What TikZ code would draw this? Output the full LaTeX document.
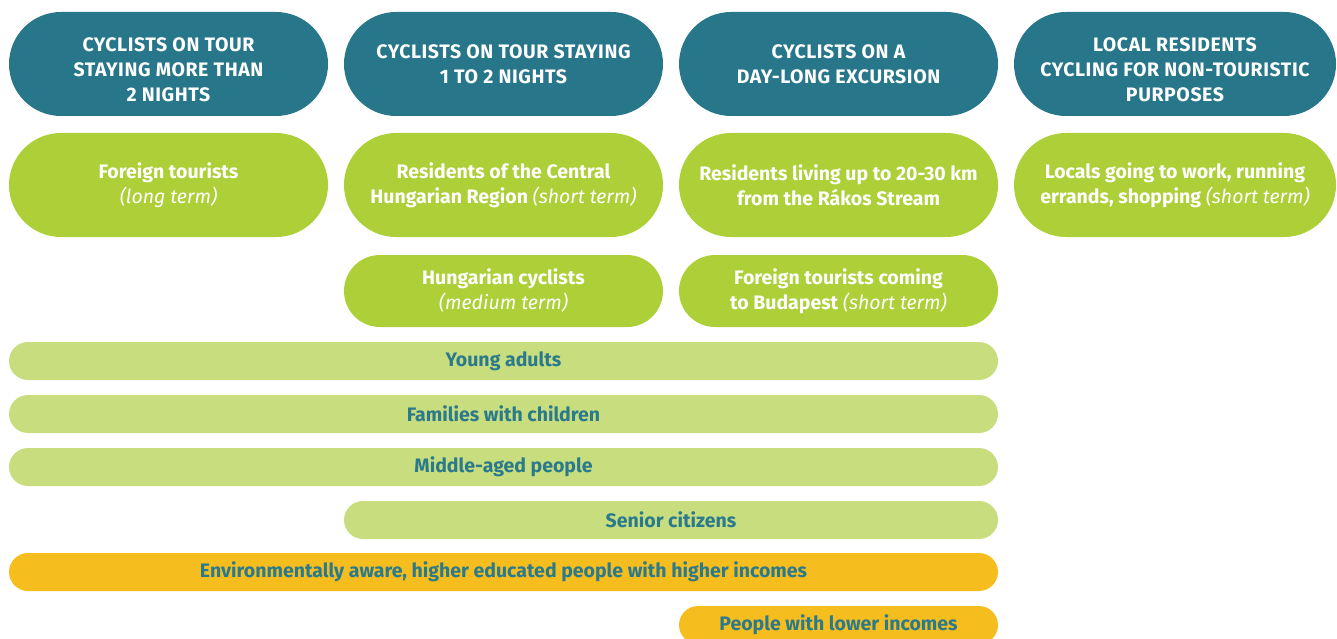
\documentclass[tikz,border=0pt]{standalone}
\usepackage{fontspec}
\setmainfont{Fira Sans}
\usetikzlibrary{shapes.misc}
\definecolor{teal}{HTML}{27768A}
\definecolor{lime}{HTML}{ADCF37}
\definecolor{pale}{HTML}{C8DD7E}
\definecolor{amber}{HTML}{F6BD1E}
\definecolor{tealtext}{HTML}{2A7A8C}
\tikzset{
  pill/.style={rounded rectangle, draw=none, inner sep=0pt, align=center, text=white,
    font=\fontsize{19.5}{25}\selectfont\bfseries},
  head/.style={pill, fill=teal, minimum height=104pt, font=\fontsize{19.5}{25}\selectfont\bfseries\addfontfeature{LetterSpace=3}},
  seg/.style={pill, fill=lime, minimum height=104pt},
  segs/.style={pill, fill=lime, minimum height=72pt},
  bar/.style={pill, text=tealtext, minimum height=38pt},
}
\newcommand{\term}[1]{{\mdseries\itshape #1}}
\newcommand{\lowthree}[3]{\raisebox{-13pt}[0pt][0pt]{\begin{tabular}{@{}c@{}}#1\\#2\\#3\end{tabular}}}
\begin{document}
\begin{tikzpicture}[x=1pt,y=-1pt]
\useasboundingbox (0,0) rectangle (1337,639);
\clip (0,0) rectangle (1337,639);
% headers
\node[head, minimum width=319pt] (h1) at (168.5,64) {\lowthree{CYCLISTS ON TOUR}{STAYING MORE THAN}{2 NIGHTS}};
\node[head, minimum width=319pt] (h2) at (503.5,64) {CYCLISTS ON TOUR STAYING\\1 TO 2 NIGHTS};
\node[head, minimum width=319pt] (h3) at (838.5,64) {CYCLISTS ON A\\DAY-LONG EXCURSION};
\node[head, minimum width=322pt] (h4) at (1175,64) {\lowthree{LOCAL RESIDENTS}{CYCLING FOR NON-TOURISTIC}{PURPOSES}};
% row 2
\node[seg, minimum width=319pt] (s1) at (168.5,185) {Foreign tourists\\\term{(long term)}};
\node[seg, minimum width=319pt] (s2) at (503.5,185) {Residents of the Central\\Hungarian Region \term{(short term)}};
\node[seg, minimum width=319pt] (s3) at (838.5,185) {Residents living up to 20-30 km\\from the Rákos Stream};
\node[seg, minimum width=322pt] (s4) at (1175,185) {Locals going to work, running\\errands, shopping \term{(short term)}};
% row 3
\node[segs, minimum width=319pt] (t2) at (503.5,291) {Hungarian cyclists\\\term{(medium term)}};
\node[segs, minimum width=319pt] (t3) at (838.5,291) {Foreign tourists coming\\to Budapest \term{(short term)}};
% bars
\node[bar, fill=pale, minimum width=989pt] (b1) at (503.5,361) {Young adults};
\node[bar, fill=pale, minimum width=989pt] (b2) at (503.5,414) {Families with children};
\node[bar, fill=pale, minimum width=989pt] (b3) at (503.5,467) {Middle-aged people};
\node[bar, fill=pale, minimum width=654pt] (b4) at (671,520) {Senior citizens};
\node[bar, fill=amber, minimum width=989pt] (b5) at (503.5,572) {Environmentally aware, higher educated people with higher incomes};
\node[bar, fill=amber, minimum width=319pt] (b6) at (838.5,625) {People with lower incomes};
\end{tikzpicture}
\end{document}
